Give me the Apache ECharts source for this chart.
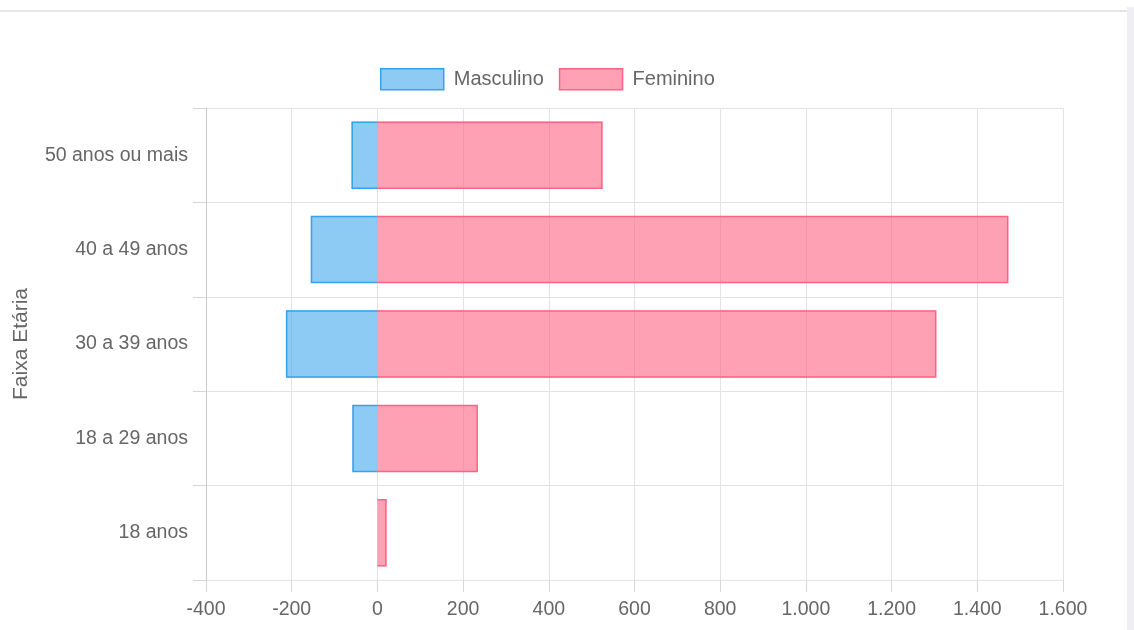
<!DOCTYPE html>
<html>
<head>
<meta charset="utf-8">
<script src="https://cdn.jsdelivr.net/npm/echarts@6/dist/echarts.min.js"></script>
<style>
  html, body { margin: 0; padding: 0; background: #fff; }
  #wrap { position: relative; width: 1134px; height: 630px; overflow: hidden; }
  #topline { position: absolute; left: 0; top: 10px; width: 1127px; height: 2px; background: #e6e6e6; }
  #side { position: absolute; right: 0; top: 7px; width: 7px; height: 623px; background: #eeeef3; }
  #chart { position: absolute; left: 0; top: 0; width: 1134px; height: 630px; }
</style>
</head>
<body>
<div id="wrap">
  <div id="topline"></div>
  <div id="side"></div>
  <div id="chart"></div>
</div>
<script>
// faixas etárias, de cima para baixo
const faixas = ['50 anos ou mais', '40 a 49 anos', '30 a 39 anos', '18 a 29 anos', '18 anos'];
const masculino = [-60, -155, -213, -58, 0];
const feminino = [525, 1472, 1304, 234, 21];

function fmtNum(v) {
  const s = String(Math.abs(v)).replace(/\B(?=(\d{3})+(?!\d))/g, '.');
  return (v < 0 ? '-' : '') + s;
}

const FONT = '"Liberation Sans", Arial, Helvetica, sans-serif';
const GRID_COLOR = '#e3e3e3';
const TICK_COLOR = '#d6d6d6';
const AZUL = { fill: 'rgba(54,162,235,0.57)', line: 'rgb(54,162,235)' };
const ROSA = { fill: 'rgba(255,99,132,0.6)', line: 'rgb(255,99,132)' };

// barra com borda em três lados (sem borda no lado do zero, como no Chart.js)
function barra(cor) {
  return function (params, api) {
    const v = api.value(1);
    if (!v) return null;
    const idx = api.value(0);
    const p0 = api.coord([0, idx]);
    const p1 = api.coord([v, idx]);
    const h = api.size([0, 1])[1] * 0.71;
    const y0 = p0[1] - h / 2, y1 = p0[1] + h / 2;
    const x0 = p0[0], x1 = p1[0];
    const xb = x1 - Math.sign(v) * 0.5;
    return {
      type: 'group',
      children: [
        { type: 'rect', shape: { x: Math.min(x0, x1), y: y0, width: Math.abs(x1 - x0), height: h },
          style: { fill: cor.fill } },
        { type: 'polyline', shape: { points: [[x0, y0 + 0.5], [xb, y0 + 0.5], [xb, y1 - 0.5], [x0, y1 - 0.5]] },
          style: { fill: null, stroke: cor.line, lineWidth: 1.5 } }
      ]
    };
  };
}

const chart = echarts.init(document.getElementById('chart'), null, { renderer: 'canvas' });
chart.setOption({
  backgroundColor: 'transparent',
  animation: false,
  textStyle: { fontFamily: FONT },
  legend: {
    top: 63, left: 375,
    itemWidth: 63, itemHeight: 21, itemGap: 15,
    textStyle: { color: '#666', fontSize: 20, fontFamily: FONT, padding: [0, 0, 0, 5] },
    data: [
      { name: 'Masculino', icon: 'rect', itemStyle: { color: AZUL.fill, borderColor: AZUL.line, borderWidth: 1.5 } },
      { name: 'Feminino', icon: 'rect', itemStyle: { color: ROSA.fill, borderColor: ROSA.line, borderWidth: 1.5 } }
    ]
  },
  grid: { left: 206, right: 71, top: 108, bottom: 50, containLabel: false, outerBoundsMode: 'none' },
  xAxis: {
    type: 'value', min: -400, max: 1600, interval: 200,
    axisLine: { show: true, lineStyle: { color: GRID_COLOR, width: 1 } },
    axisTick: { show: true, inside: false, length: 12, lineStyle: { color: TICK_COLOR, width: 1 } },
    splitLine: { show: true, lineStyle: { color: GRID_COLOR, width: 1 } },
    axisLabel: { color: '#666', fontSize: 19.5, margin: 20, fontFamily: FONT, formatter: fmtNum }
  },
  yAxis: {
    type: 'category', data: faixas, inverse: true,
    name: 'Faixa Etária', nameLocation: 'middle', nameGap: 174, nameRotate: 90,
    nameTextStyle: { color: '#666', fontSize: 21, fontFamily: FONT },
    axisLine: { show: true, onZero: false, lineStyle: { color: '#c8c8c8', width: 1 } },
    axisTick: { show: true, interval: 0, length: 13, lineStyle: { color: TICK_COLOR, width: 1 } },
    splitLine: { show: true, interval: 0, lineStyle: { color: GRID_COLOR, width: 1 } },
    axisLabel: { color: '#666', fontSize: 19.5, margin: 18, fontFamily: FONT }
  },
  series: [
    {
      name: 'Masculino', type: 'custom', renderItem: barra(AZUL),
      encode: { x: 1, y: 0 },
      itemStyle: { color: AZUL.fill },
      data: masculino.map((v, i) => [i, v])
    },
    {
      name: 'Feminino', type: 'custom', renderItem: barra(ROSA),
      encode: { x: 1, y: 0 },
      itemStyle: { color: ROSA.fill },
      data: feminino.map((v, i) => [i, v])
    }
  ]
});
window.addEventListener('resize', () => chart.resize());
</script>
</body>
</html>
